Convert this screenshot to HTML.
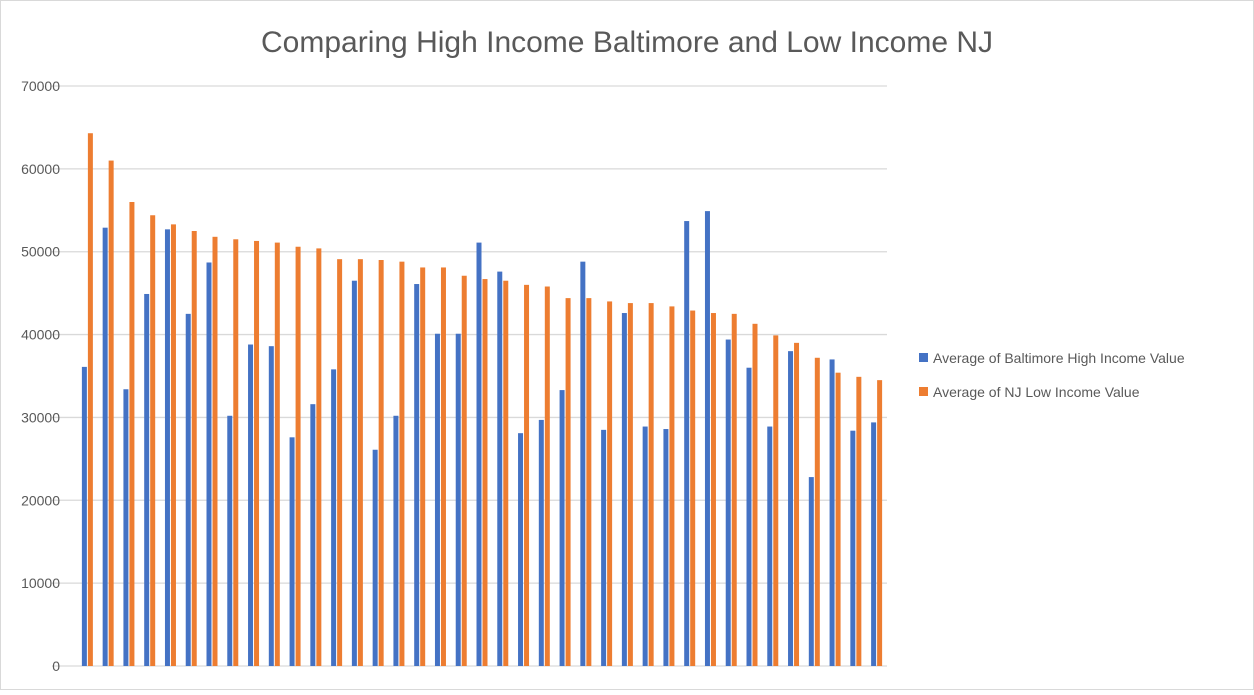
<!DOCTYPE html>
<html><head><meta charset="utf-8"><style>
body{margin:0;background:#fff;font-family:"Liberation Sans",sans-serif}
</style></head><body>
<svg id="chart" width="1254" height="690" xmlns="http://www.w3.org/2000/svg">
<rect x="0.5" y="0.5" width="1253" height="689" fill="#fff" stroke="#d9d9d9"/>
<text x="627" y="52" text-anchor="middle" font-size="30" fill="#595959" font-family="Liberation Sans, sans-serif">Comparing High Income Baltimore and Low Income NJ</text>
<g id="grid"></g><g id="bars"></g>
<g>
<rect x="919" y="353" width="9" height="9" fill="#4472c4"/>
<text x="933" y="363" font-size="14" fill="#595959">Average of Baltimore High Income Value</text>
<rect x="919" y="387" width="9" height="9" fill="#ed7d31"/>
<text x="933" y="397" font-size="14" fill="#595959">Average of NJ Low Income Value</text>
</g>
</svg>
<script>
const baltimore=[36100,52900,33400,44900,52700,42500,48700,30200,38800,38600,27600,31600,35800,46500,26100,30200,46100,40100,40100,51100,47600,28100,29700,33300,48800,28500,42600,28900,28600,53700,54900,39400,36000,28900,38000,22800,37000,28400,29400];
const nj=[64300,61000,56000,54400,53300,52500,51800,51500,51300,51100,50600,50400,49100,49100,49000,48800,48100,48100,47100,46700,46500,46000,45800,44400,44400,44000,43800,43800,43400,42900,42600,42500,41300,39900,39000,37200,35400,34900,34500];
const ticks=[0,10000,20000,30000,40000,50000,60000,70000];
const NS="http://www.w3.org/2000/svg";
const y0=666,y1=86,vmax=70000,xl=77,xr=887;
const y=v=>y0-(v/vmax)*(y0-y1);
const band=(xr-xl)/baltimore.length;
const cx=i=>xl+band*(i+0.5);
const grid=document.getElementById('grid'),bars=document.getElementById('bars');
function mk(t,a,p){const e=document.createElementNS(NS,t);for(const k in a)e.setAttribute(k,a[k]);p.appendChild(e);return e;}
ticks.forEach(t=>{
 const l=mk('line',{x1:52,x2:xr,y1:y(t),y2:y(t),stroke:t===0?'#d9d9d9':'#d9d9d9','stroke-width':1.3},grid);
 
 
 const tx=mk('text',{x:60,y:y(t)+5,'text-anchor':'end','font-size':14,fill:'#595959'},grid);
 tx.textContent=t;
 
 
});
baltimore.forEach((v,i)=>{
 const r=mk('rect',{x:cx(i)-5.5,y:y(v),width:5,height:y0-y(v),fill:'#4472c4'},bars);
 
 
});
nj.forEach((v,i)=>{
 const r=mk('rect',{x:cx(i)+0.5,y:y(v),width:5,height:y0-y(v),fill:'#ed7d31'},bars);
 
 
});
</script>
</body></html>
